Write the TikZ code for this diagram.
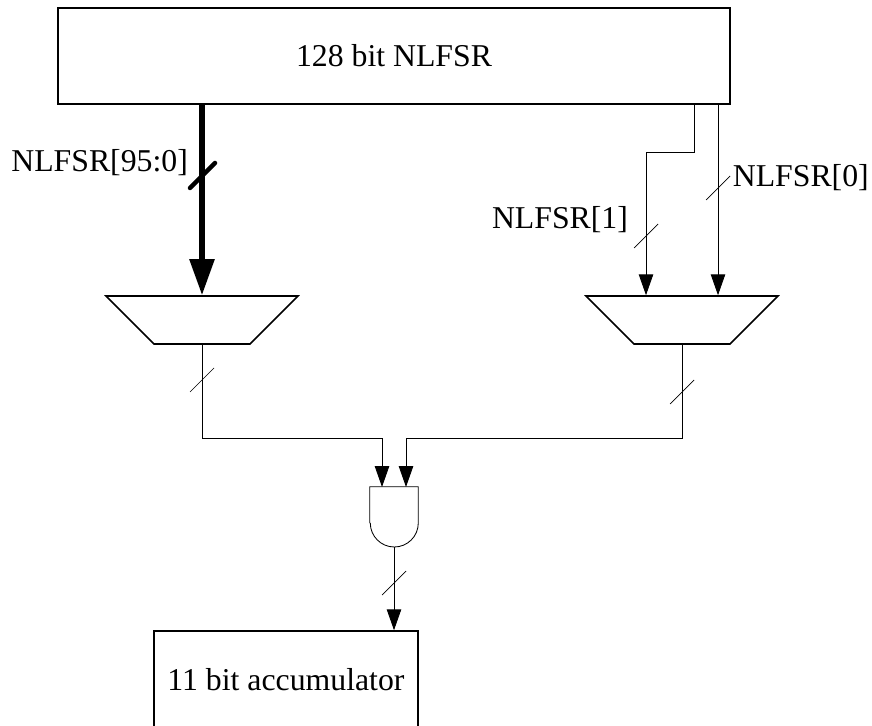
\documentclass[tikz,border=0pt]{standalone}
\usepackage{fontspec}
\setmainfont{Liberation Serif}
\usetikzlibrary{arrows.meta,shapes.geometric}
\tikzset{
  block/.style={draw, line width=1.1pt, inner sep=0pt, font=\fontsize{22.6}{28}\selectfont},
  mux/.style={draw, line width=1.1pt, trapezium, trapezium left angle=45, trapezium right angle=45,
    shape border rotate=180, trapezium stretches=true, minimum width=4.8cm, minimum height=1.2cm, inner xsep=2pt, inner ysep=1pt},
  buslabel/.style={inner sep=0pt, font=\fontsize{22.6}{28}\selectfont},
  wire/.style={line width=0.6pt, -{Triangle[length=0.52cm, width=0.36cm]}},
  thickwire/.style={line width=3.9pt, -{Triangle[length=0.9cm, width=0.6cm]}},
  tick/.style={line width=0.5pt},
  thicktick/.style={line width=3.2pt, line cap=round}
}
\begin{document}
\begin{tikzpicture}

	\useasboundingbox (0,0) rectangle (21.8,18.125);

	% Height of the wires that join at the gate
	\def\joinofs{7.175}

	% Registers
	\node[block, minimum width=16.8cm, minimum height=2.4cm] (nlfsr) at (9.85,16.725) {128 bit NLFSR};
	\node[block, minimum width=6.6cm, minimum height=2.45cm] (accu) at (7.15,1.125) {11 bit accumulator};

	% Muxes
	\node[mux] (muxleft) at (5.05,10.125) {};
	\node[mux] (muxright) at (17.05,10.125) {};

	% Gate
	\node[minimum width=1.2cm, minimum height=1.5cm, inner sep=0pt] (gate) at (9.85,5.2) {};
	\draw[line width=0.6pt] (gate.west |- 0,5.05) -- (gate.north west) -- (gate.north east) -- (gate.east |- 0,5.05)
		arc[start angle=0, end angle=-180, radius=0.6];

	% Ports
	\coordinate (portone) at (17.35,15.525);
	\coordinate (portzero) at (17.95,15.525);
	\coordinate (bendone) at (16.15,14.325);
	\coordinate (gatea) at (9.55,5.95);
	\coordinate (gateb) at (10.15,5.95);

	% NLFSR[95:0]
	\draw[thickwire] (nlfsr.south -| muxleft.north) -- (muxleft.north);
	\draw[thicktick] (4.75,13.425) -- (5.375,14.05);
	\node[buslabel] (labelbus) at (2.49,14.05) {NLFSR[95:0]};

	% NLFSR[1]
	\draw[wire] (portone) |- (bendone) -- (bendone |- muxright.north);
	\draw[tick] (15.85,11.925) -- (16.45,12.525);
	\node[buslabel] (labelone) at (14,12.625) {NLFSR[1]};

	% NLFSR[0]
	\draw[wire] (portzero) -- (portzero |- muxright.north);
	\draw[tick] (17.65,13.125) -- (18.25,13.725);
	\node[buslabel] (labelzero) at (20.02,13.675) {NLFSR[0]};

	% Mux outputs
	\draw[wire] (muxleft.south) |- (gatea |- 0,\joinofs) -- (gatea);
	\draw[tick] (4.75,8.325) -- (5.35,8.925);
	\draw[wire] (muxright.south) |- (gateb |- 0,\joinofs) -- (gateb);
	\draw[tick] (16.75,8.025) -- (17.35,8.625);

	% Gate output
	\draw[wire] (gate.south) -- (accu.north -| gate.south);
	\draw[tick] (9.55,3.25) -- (10.15,3.85);

\end{tikzpicture}
\end{document}
